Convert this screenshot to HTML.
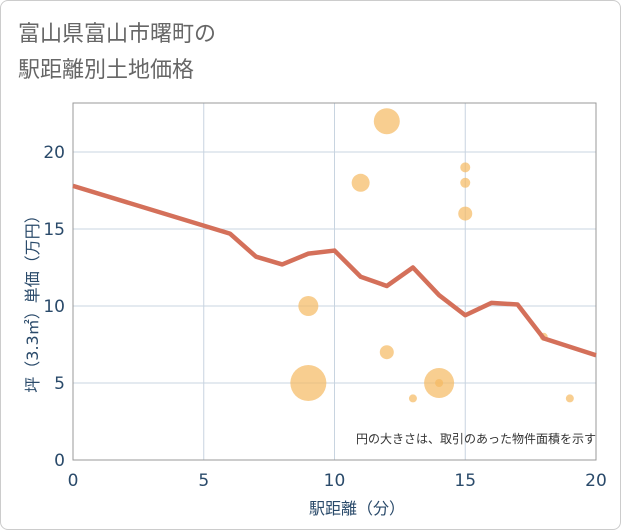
<!DOCTYPE html>
<html><head><meta charset="utf-8">
<style>
html,body{margin:0;padding:0;background:#fff;}
body{width:621px;height:530px;overflow:hidden;font-family:"Liberation Sans","Noto Sans CJK JP",sans-serif;}
.card{position:absolute;left:0;top:0;width:619px;height:528px;border:1px solid #ccc;border-radius:8px;background:#fff;}
</style></head><body>
<div class="card"></div>
<svg width="621" height="530" style="position:absolute;left:0;top:0">
<text x="18" y="41" font-size="22" fill="#666" font-family="DejaVu Sans, Noto Sans CJK JP, sans-serif">富山県富山市曙町の</text>
<text x="18" y="77" font-size="22" fill="#666" font-family="DejaVu Sans, Noto Sans CJK JP, sans-serif">駅距離別土地価格</text>
<g id="grid"></g>
<rect x="73" y="103" width="523" height="357" fill="none" stroke="#999" stroke-width="1"/>
<g id="bubbles"></g>
<g id="line"></g>
<g id="ticks"></g>
<text x="596" y="443" font-size="12" fill="#333" text-anchor="end" font-family="Liberation Sans, Noto Sans CJK JP, sans-serif">円の大きさは、取引のあった物件面積を示す</text>
<text x="357" y="514" font-size="16" fill="#2a4a6a" text-anchor="middle" font-family="DejaVu Sans, Noto Sans CJK JP, sans-serif">駅距離（分）</text>
<text transform="translate(38,300) rotate(-90)" font-size="16" fill="#2a4a6a" text-anchor="middle" font-family="DejaVu Sans, Noto Sans CJK JP, sans-serif">坪（3.3㎡）単価（万円）</text>
</svg>
<script>
const xTicks=[0,5,10,15,20];
const yTicks=[0,5,10,15,20];
const lineX=[0,6,7,8,9,10,11,12,13,14,15,16,17,18,20];
const lineY=[17.8,14.7,13.2,12.7,13.4,13.6,11.9,11.3,12.5,10.7,9.4,10.2,10.1,7.9,6.8];
const bubX=[12,11,15,15,15,9,12,9,14,14,13,19,18];
const bubY=[22,18,19,18,16,10,7,5,5,5,4,4,8];
const bubR=[13,9,5,5,7,10,7,18,15,4,4,4,4];
const NS="http://www.w3.org/2000/svg";
const sx=v=>73+v*(523/20);
const sy=v=>460-v*15.4;
function mk(t,a,p){const e=document.createElementNS(NS,t);for(const k in a)e.setAttribute(k,a[k]);p.appendChild(e);return e;}
const grid=document.getElementById('grid'),ticks=document.getElementById('ticks');
xTicks.forEach(v=>{
 const l=mk('line',{x1:sx(v),x2:sx(v),y1:103,y2:460,stroke:'#c8d4e0','stroke-width':1},grid);
 
 
 const t=mk('text',{x:sx(v),y:486,'font-size':17,fill:'#2a4a6a','text-anchor':'middle','font-family':'DejaVu Sans, sans-serif'},ticks);
 t.textContent=v;
 
 
});
yTicks.forEach(v=>{
 const l=mk('line',{x1:73,x2:596,y1:sy(v),y2:sy(v),stroke:'#c8d4e0','stroke-width':1},grid);
 
 
 const t=mk('text',{x:65,y:sy(v)+6,'font-size':17,fill:'#2a4a6a','text-anchor':'end','font-family':'DejaVu Sans, sans-serif'},ticks);
 t.textContent=v;
 
 
});
const bg=document.getElementById('bubbles');
bubX.forEach((x,i)=>{
 const c=mk('circle',{cx:sx(x),cy:sy(bubY[i]),r:bubR[i],fill:'#f5b961','fill-opacity':0.7},bg);
 
 
});
const pts=lineX.map((x,i)=>sx(x)+','+sy(lineY[i])).join(' ');
const pl=mk('polyline',{points:pts,fill:'none',stroke:'#d4705a','stroke-width':4.5,'stroke-linejoin':'round'},document.getElementById('line'));


</script>
</body></html>
